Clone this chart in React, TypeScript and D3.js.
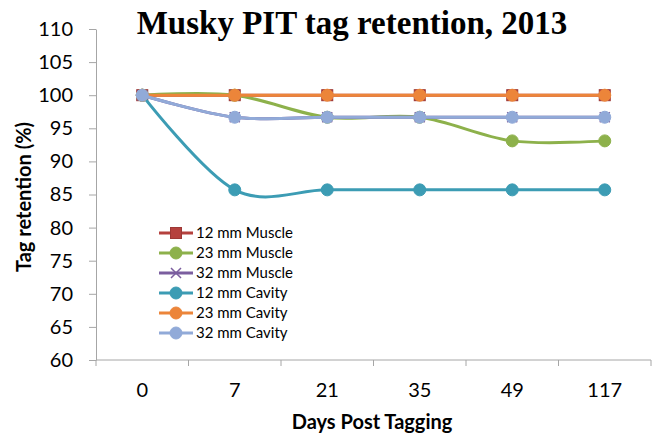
import { useEffect, useRef } from "react";
import * as d3 from "d3";

const days = ["0", "7", "21", "35", "49", "117"];
const seriesNames = ["12 mm Muscle", "23 mm Muscle", "32 mm Muscle", "12 mm Cavity", "23 mm Cavity", "32 mm Cavity"];
const muscle12 = [100, 100, 100, 100, 100, 100];
const muscle23 = [100, 100, 96.67, 96.67, 93.1, 93.1];
const muscle32 = [100, 96.67, 96.67, 96.67, 96.67, 96.67];
const cavity12 = [100, 85.7, 85.7, 85.7, 85.7, 85.7];
const cavity23 = [100, 100, 100, 100, 100, 100];
const cavity32 = [100, 96.67, 96.67, 96.67, 96.67, 96.67];
const yTicks = [60, 65, 70, 75, 80, 85, 90, 95, 100, 105, 110];

const colors = ["#B5413E", "#8DB14B", "#7B5E9F", "#3C9CB4", "#EC853A", "#91AAD8"];
const markers = ["square", "circle", "x", "circle", "circle", "circle"];

export default function App() {
  const svgRef = useRef<SVGSVGElement>(null);

  useEffect(() => {
    if (!svgRef.current) return;
    const svg = d3.select(svgRef.current);
    svg.selectAll("*").remove();

    const font = "Lato, 'Open Sans', sans-serif";
    const left = 96, right = 651, top = 29, bottom = 360;

    const x = d3.scaleBand().domain(days).range([left, right]);
    const y = d3.scaleLinear().domain([60, 110]).range([bottom, top]);
    const cx = (d: string) => (x(d) as number) + x.bandwidth() / 2;

    const allSeries = [muscle12, muscle23, muscle32, cavity12, cavity23, cavity32];

    // title
    svg.append("text")
      .attr("x", 352).attr("y", 34)
      .attr("text-anchor", "middle")
      .attr("font-family", "'Liberation Serif', 'Times New Roman', serif")
      .attr("font-weight", "bold").attr("font-size", 33)
      .text("Musky PIT tag retention, 2013");

    // y axis
    const yAxis = d3.axisLeft(y).tickValues(yTicks).tickSize(7).tickPadding(16).tickSizeOuter(0);
    const gy = svg.append("g").attr("transform", `translate(${left},0)`).call(yAxis);
    gy.select(".domain").attr("stroke", "#A6A6A6");
    gy.selectAll("line").attr("stroke", "#A6A6A6");
    gy.selectAll("text").attr("font-family", font).attr("font-size", 20).attr("fill", "#000");

    // x axis, ticks at category boundaries
    const gx = svg.append("g").attr("transform", `translate(0,${bottom})`);
    gx.append("line").attr("x1", left).attr("x2", right).attr("stroke", "#A6A6A6");
    const bounds = days.map((d) => x(d) as number).concat([right]);
    gx.selectAll("line.tick").data(bounds).join("line")
      .attr("class", "tick")
      .attr("x1", (d) => d).attr("x2", (d) => d)
      .attr("y1", 0).attr("y2", 6)
      .attr("stroke", "#A6A6A6");
    gx.selectAll("text").data(days).join("text")
      .attr("x", (d) => cx(d)).attr("y", 37)
      .attr("text-anchor", "middle")
      .attr("font-family", font).attr("font-size", 20)
      .text((d) => d);

    // axis titles
    svg.append("text")
      .attr("transform", `translate(31,197) rotate(-90)`)
      .attr("text-anchor", "middle")
      .attr("font-family", font).attr("font-weight", "bold").attr("font-size", 20)
      .text("Tag retention (%)");
    svg.append("text")
      .attr("x", 372).attr("y", 429)
      .attr("text-anchor", "middle")
      .attr("font-family", font).attr("font-weight", "bold").attr("font-size", 20)
      .text("Days Post Tagging");

    const line = d3.line<number>()
      .x((_, i) => cx(days[i]))
      .y((d) => y(d))
      .curve(d3.curveCatmullRom.alpha(0));

    const drawMarker = (g: any, type: string, px: number, py: number, c: string) => {
      if (type === "square") {
        g.append("rect").attr("x", px - 5.5).attr("y", py - 5.5).attr("width", 11).attr("height", 11)
          .attr("fill", c).attr("stroke", d3.color(c)!.darker(0.4).toString()).attr("stroke-width", 1);
      } else if (type === "x") {
        g.append("path").attr("d", `M${px - 5},${py - 5}L${px + 5},${py + 5}M${px - 5},${py + 5}L${px + 5},${py - 5}`)
          .attr("stroke", c).attr("stroke-width", 1.5).attr("fill", "none");
      } else {
        g.append("circle").attr("cx", px).attr("cy", py).attr("r", 6)
          .attr("fill", c).attr("stroke", c).attr("stroke-width", 1);
      }
    };

    allSeries.forEach((s, k) => {
      const g = svg.append("g");
      g.append("path").datum(s)
        .attr("d", line)
        .attr("fill", "none")
        .attr("stroke", colors[k])
        .attr("stroke-width", 3);
      s.forEach((v, i) => drawMarker(g, markers[k], cx(days[i]), y(v), colors[k]));
    });

    // legend
    const lg = svg.append("g");
    seriesNames.forEach((name, k) => {
      const ly = 233 + k * 20;
      lg.append("line").attr("x1", 159).attr("x2", 193).attr("y1", ly).attr("y2", ly)
        .attr("stroke", colors[k]).attr("stroke-width", 3);
      drawMarker(lg, markers[k], 176, ly, colors[k]);
      lg.append("text").attr("x", 196).attr("y", ly + 5)
        .attr("font-family", font).attr("font-size", 15)
        .text(name);
    });
  }, []);

  return (
    <svg ref={svgRef} width={653} height={434}
      style={{ position: "absolute", left: 0, top: 0, background: "#fff" }} />
  );
}
